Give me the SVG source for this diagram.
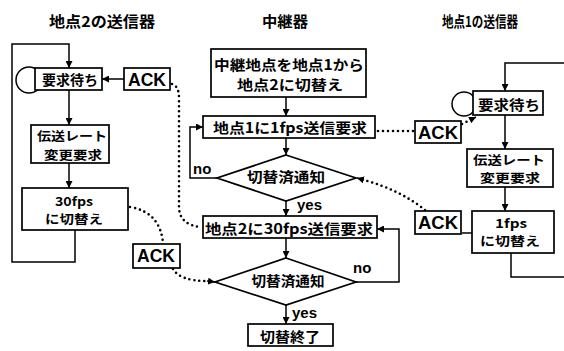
<svg xmlns="http://www.w3.org/2000/svg" width="564" height="351" viewBox="0 0 564 351">
<defs>
<style>
.t{font-family:"Noto Sans CJK JP","Noto Sans CJK SC",sans-serif;font-weight:bold;font-size:14px;text-anchor:middle;dominant-baseline:central;fill:#000}
.ti{font-size:15px}
.t2{font-size:12.5px}
.ack{font-family:"Liberation Sans",Arial,sans-serif;font-weight:bold;font-size:18px}
.lb{font-family:"Liberation Sans",Arial,sans-serif;font-weight:bold;font-size:15px;fill:#000}
.box{fill:#fff;stroke:#000;stroke-width:1.7}
.ln{fill:none;stroke:#000;stroke-width:1.5}
.dot{fill:none;stroke:#000;stroke-width:2.6;stroke-linecap:round;stroke-dasharray:0 5}
</style>
<marker id="ah" viewBox="0 0 10 10" refX="10" refY="5" markerWidth="7" markerHeight="7" markerUnits="userSpaceOnUse" orient="auto">
<path d="M0,0 L10,5 L0,10 z" fill="#000"/>
</marker>
</defs>
<rect width="564" height="351" fill="#fff"/>

<g id="titles">
<text class="t ti" x="102" y="20" textLength="106" lengthAdjust="spacingAndGlyphs">地点2の送信器</text>
<text class="t ti" x="285" y="20" textLength="46" lengthAdjust="spacingAndGlyphs">中継器</text>
<text class="t ti" x="480" y="20" textLength="76" lengthAdjust="spacingAndGlyphs">地点1の送信器</text>
</g>

<g id="connectors">
<!-- left column -->
<circle class="ln" cx="29" cy="80" r="13"/>
<polyline class="ln" points="75,230 75,262 12,262 12,44 69,44 69,68" marker-end="url(#ah)"/>
<line class="ln" x1="69" y1="90" x2="69" y2="125" marker-end="url(#ah)"/>
<line class="ln" x1="69" y1="163" x2="69" y2="188" marker-end="url(#ah)"/>
<line class="ln" x1="124" y1="79" x2="102" y2="79" marker-end="url(#ah)"/>
<!-- right column -->
<circle class="ln" cx="464" cy="104" r="12"/>
<polyline class="ln" points="564,63 505,63 505,91" marker-end="url(#ah)"/>
<line class="ln" x1="505" y1="115" x2="505" y2="149" marker-end="url(#ah)"/>
<line class="ln" x1="505" y1="187" x2="505" y2="211" marker-end="url(#ah)"/>
<polyline class="ln" points="511,253 511,277 564,277"/>
<line class="ln" x1="472" y1="233" x2="462" y2="233"/>
<!-- middle -->
<line class="ln" x1="286" y1="97" x2="286" y2="116" marker-end="url(#ah)"/>
<line class="ln" x1="286" y1="138" x2="286" y2="155" marker-end="url(#ah)"/>
<polyline class="ln" points="217,178 190,178 190,127 203,127" marker-end="url(#ah)"/>
<line class="ln" x1="286" y1="201" x2="286" y2="216" marker-end="url(#ah)"/>
<line class="ln" x1="286" y1="238" x2="286" y2="258" marker-end="url(#ah)"/>
<polyline class="ln" points="356,282 399,282 399,229 377,229" marker-end="url(#ah)"/>
<line class="ln" x1="286" y1="305" x2="286" y2="324" marker-end="url(#ah)"/>
<!-- dotted -->
<line class="dot" x1="378" y1="131" x2="414" y2="131"/>
<path class="dot" d="M462,124 L470,120"/>
<line class="ln" x1="470" y1="120" x2="476" y2="117" marker-end="url(#ah)"/>
<path class="dot" d="M425,210 Q400,190 364,180"/>
<line class="ln" x1="364" y1="180" x2="357" y2="178" marker-end="url(#ah)"/>
<path class="dot" d="M172,84 Q179,86 179,98 L179,208 Q180,225 201,227"/>
<path class="dot" d="M130,207 Q160,212 163,243"/>
<path class="dot" d="M173,269 Q180,281 207,281"/>
<line class="ln" x1="207" y1="281" x2="215" y2="282" marker-end="url(#ah)"/>
</g>

<g id="n-wait2">
<rect class="box" x="35" y="68" width="67" height="22"/>
<text class="t" x="70" y="79" textLength="56" lengthAdjust="spacingAndGlyphs">要求待ち</text>
</g>
<g id="n-ack2a">
<rect class="box" x="124" y="68" width="46" height="22"/>
<text class="t ack" x="147" y="80" textLength="38" lengthAdjust="spacingAndGlyphs">ACK</text>
</g>
<g id="n-req2">
<rect class="box" x="31" y="125" width="78" height="38"/>
<text class="t t2" x="72" y="135.5" textLength="70" lengthAdjust="spacingAndGlyphs">伝送レート</text>
<text class="t t2" x="73" y="154" textLength="58" lengthAdjust="spacingAndGlyphs">変更要求</text>
</g>
<g id="n-sw30">
<rect class="box" x="22" y="188" width="106" height="42"/>
<text class="t t2" x="74" y="200" textLength="38" lengthAdjust="spacingAndGlyphs">30fps</text>
<text class="t t2" x="74" y="218.5" textLength="58" lengthAdjust="spacingAndGlyphs">に切替え</text>
</g>
<g id="n-ack2b">
<rect class="box" x="133" y="244" width="47" height="24"/>
<text class="t ack" x="156" y="256" textLength="38" lengthAdjust="spacingAndGlyphs">ACK</text>
</g>

<g id="n-start">
<rect class="box" x="211" y="49" width="155" height="48"/>
<text class="t" x="289" y="63.5" textLength="150" lengthAdjust="spacingAndGlyphs">中継地点を地点1から</text>
<text class="t" x="290" y="84" textLength="106" lengthAdjust="spacingAndGlyphs">地点2に切替え</text>
</g>
<g id="n-req1fps">
<rect class="box" x="203" y="116" width="172" height="22"/>
<text class="t" x="290" y="127" textLength="154" lengthAdjust="spacingAndGlyphs">地点1に1fps送信要求</text>
</g>
<g id="n-dec1">
<polygon class="box" points="286,155 356,178 286,201 217,178"/>
<text class="t" x="286" y="176" textLength="78" lengthAdjust="spacingAndGlyphs">切替済通知</text>
</g>
<g id="n-req30fps">
<rect class="box" x="203" y="216" width="174" height="22"/>
<text class="t" x="289" y="228" textLength="168" lengthAdjust="spacingAndGlyphs">地点2に30fps送信要求</text>
</g>
<g id="n-dec2">
<polygon class="box" points="286,258 356,282 286,305 215,282"/>
<text class="t" x="288" y="280" textLength="73" lengthAdjust="spacingAndGlyphs">切替済通知</text>
</g>
<g id="n-end">
<rect class="box" x="248" y="324" width="85" height="22"/>
<text class="t" x="290" y="336" textLength="60" lengthAdjust="spacingAndGlyphs">切替終了</text>
</g>

<g id="labels">
<text class="lb" x="193" y="174">no</text>
<text class="lb" x="297" y="210">yes</text>
<text class="lb" x="353" y="273">no</text>
<text class="lb" x="292" y="318">yes</text>
</g>

<g id="n-wait1">
<rect class="box" x="473" y="91" width="70" height="24"/>
<text class="t" x="509" y="104" textLength="62" lengthAdjust="spacingAndGlyphs">要求待ち</text>
</g>
<g id="n-ack1a">
<rect class="box" x="415" y="121" width="46" height="22"/>
<text class="t ack" x="438" y="133" textLength="40" lengthAdjust="spacingAndGlyphs">ACK</text>
</g>
<g id="n-req1">
<rect class="box" x="467" y="149" width="86" height="38"/>
<text class="t t2" x="509" y="159" textLength="72" lengthAdjust="spacingAndGlyphs">伝送レート</text>
<text class="t t2" x="510" y="177.5" textLength="60" lengthAdjust="spacingAndGlyphs">変更要求</text>
</g>
<g id="n-ack1b">
<rect class="box" x="415" y="211" width="46" height="23"/>
<text class="t ack" x="438" y="223" textLength="40" lengthAdjust="spacingAndGlyphs">ACK</text>
</g>
<g id="n-sw1">
<rect class="box" x="472" y="211" width="82" height="42"/>
<text class="t t2" x="511" y="222" textLength="32" lengthAdjust="spacingAndGlyphs">1fps</text>
<text class="t t2" x="510" y="240.5" textLength="60" lengthAdjust="spacingAndGlyphs">に切替え</text>
</g>
</svg>
